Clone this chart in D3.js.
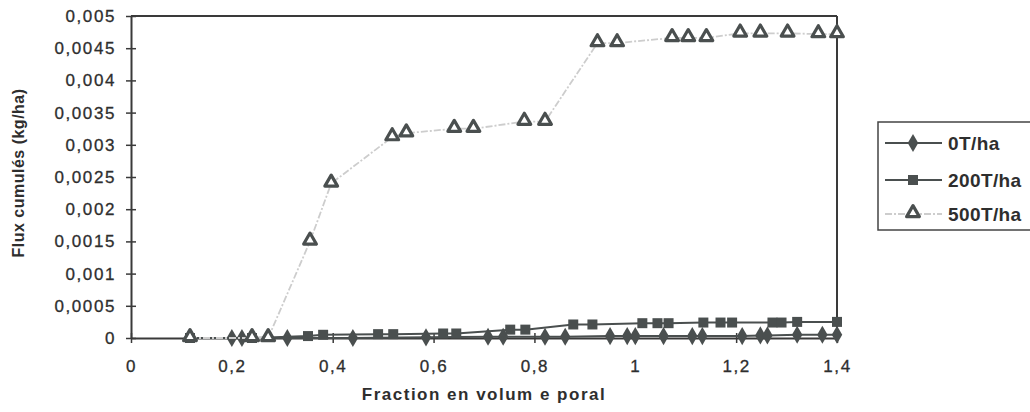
<!DOCTYPE html>
<html><head><meta charset="utf-8">
<script src="https://cdn.jsdelivr.net/npm/d3@7"></script>
<style>
html,body{margin:0;padding:0;background:#fff;}
svg{display:block;}
text{font-family:"Liberation Sans",Arial,sans-serif;fill:#2e2e2e;}
</style></head>
<body>
<script>
// ---- data ----
const xTicks = [0, 0.2, 0.4, 0.6, 0.8, 1, 1.2, 1.4];
const xTickLabels = ["0", "0,2", "0,4", "0,6", "0,8", "1", "1,2", "1,4"];
const yTicks = [0, 0.0005, 0.001, 0.0015, 0.002, 0.0025, 0.003, 0.0035, 0.004, 0.0045, 0.005];
const yTickLabels = ["0", "0,0005", "0,001", "0,0015", "0,002", "0,0025", "0,003", "0,0035", "0,004", "0,0045", "0,005"];
const seriesNames = ["0T/ha", "200T/ha", "500T/ha"];

const x0T = [0.2, 0.22, 0.31, 0.44, 0.585, 0.708, 0.738, 0.821, 0.861, 0.95, 0.984, 1.0, 1.056, 1.113, 1.133, 1.212, 1.248, 1.262, 1.321, 1.371, 1.4];
const y0T = [0, 0, 0, 0, 0.00001, 0.00002, 0.00002, 0.00002, 0.00002, 0.00003, 0.00003, 0.00003, 0.00003, 0.00003, 0.00003, 0.00003, 0.00004, 0.00004, 0.00005, 0.00005, 0.00005];

const x200T = [0.117, 0.24, 0.351, 0.381, 0.49, 0.52, 0.619, 0.645, 0.752, 0.782, 0.877, 0.915, 1.014, 1.044, 1.066, 1.135, 1.169, 1.192, 1.272, 1.29, 1.321, 1.4];
const y200T = [0, 0, 0.00003, 0.00005, 0.00006, 0.00006, 0.00007, 0.00007, 0.00013, 0.00013, 0.00021, 0.00021, 0.00023, 0.00023, 0.00023, 0.00024, 0.00024, 0.00024, 0.00024, 0.00024, 0.00025, 0.00025];

const x500T = [0.117, 0.24, 0.272, 0.355, 0.397, 0.518, 0.546, 0.641, 0.679, 0.78, 0.821, 0.925, 0.964, 1.073, 1.105, 1.141, 1.208, 1.248, 1.302, 1.363, 1.4];
const y500T = [0, 0, 0, 0.0015, 0.0024, 0.00312, 0.00318, 0.00325, 0.00325, 0.00336, 0.00336, 0.00458, 0.00458, 0.00466, 0.00466, 0.00466, 0.00473, 0.00473, 0.00473, 0.00472, 0.00472];

// ---- drawing ----
const W = 1030, H = 412;
const svg = d3.select("body").append("svg").attr("width", W).attr("height", H);
const x = d3.scaleLinear().domain([0, 1.4]).range([131, 837]);
const y = d3.scaleLinear().domain([0, 0.005]).range([338, 16]);
const dark = "#4a4f4f";
const axisCol = "#3a3a3a";
const lightLine = "#cdcdcd";

// frame (top & right)
svg.append("line").attr("x1", x(0)).attr("x2", x(1.4)).attr("y1", y(0.005)).attr("y2", y(0.005))
  .attr("stroke", axisCol).attr("stroke-width", 2);
svg.append("line").attr("x1", x(1.4)).attr("x2", x(1.4)).attr("y1", y(0.005)).attr("y2", y(0))
  .attr("stroke", axisCol).attr("stroke-width", 2);

// y axis
const yAxis = d3.axisLeft(y).tickValues(yTicks).tickSize(0).tickPadding(15)
  .tickFormat((d, i) => yTickLabels[i]);
const gy = svg.append("g").attr("transform", `translate(${x(0)},0)`).call(yAxis);
gy.select(".domain").attr("stroke", axisCol).attr("stroke-width", 2);
gy.selectAll(".tick text").attr("font-size", 17).attr("letter-spacing", 1.6).attr("fill", "#2e2e2e")
  .attr("stroke", "#2e2e2e").attr("stroke-width", 0.3)
  .attr("font-family", "Liberation Sans, Arial, sans-serif");
gy.selectAll(".tick").append("line").attr("x1", -5).attr("x2", 5).attr("stroke", axisCol).attr("stroke-width", 1.5);

// x axis
const xAxis = d3.axisBottom(x).tickValues(xTicks).tickSize(0).tickPadding(22)
  .tickFormat((d, i) => xTickLabels[i]);
const gx = svg.append("g").attr("transform", `translate(0,${y(0)})`).call(xAxis);
gx.select(".domain").attr("stroke", axisCol).attr("stroke-width", 2);
gx.selectAll(".tick text").attr("font-size", 17).attr("letter-spacing", 1.6).attr("fill", "#2e2e2e")
  .attr("stroke", "#2e2e2e").attr("stroke-width", 0.3)
  .attr("font-family", "Liberation Sans, Arial, sans-serif");
gx.selectAll(".tick").append("line").attr("y1", -5).attr("y2", 5).attr("stroke", axisCol).attr("stroke-width", 1.5);

// titles
svg.append("text").attr("x", 484).attr("y", 400).attr("text-anchor", "middle")
  .attr("font-size", 17).attr("font-weight", "bold").attr("letter-spacing", 1.5)
  .text("Fraction en volum e poral");
svg.append("text").attr("transform", "translate(24,173) rotate(-90)").attr("text-anchor", "middle")
  .attr("font-size", 16).attr("font-weight", "bold").attr("letter-spacing", 0.5)
  .text("Flux cumulés (kg/ha)");

// series
const line = d3.line().x(d => x(d[0])).y(d => y(d[1]));
const s0 = x0T.map((v, i) => [v, y0T[i]]);
const s200 = x200T.map((v, i) => [v, y200T[i]]);
const s500 = x500T.map((v, i) => [v, y500T[i]]);

const diamond = d3.symbol().type(d3.symbolDiamond).size(95);
const square = d3.symbol().type(d3.symbolSquare).size(100);
const triangle = d3.symbol().type(d3.symbolTriangle).size(70);

// 0T/ha
svg.append("path").datum(s0).attr("d", line).attr("fill", "none").attr("stroke", dark).attr("stroke-width", 2);
svg.append("g").selectAll("path").data(s0).join("path")
  .attr("transform", d => `translate(${x(d[0])},${y(d[1])})`).attr("d", diamond).attr("fill", dark);

// 200T/ha
svg.append("path").datum(s200).attr("d", line).attr("fill", "none").attr("stroke", dark).attr("stroke-width", 2);
svg.append("g").selectAll("path").data(s200).join("path")
  .attr("transform", d => `translate(${x(d[0])},${y(d[1])})`).attr("d", square).attr("fill", dark);

// 500T/ha
svg.append("path").datum(s500).attr("d", line).attr("fill", "none").attr("stroke", lightLine)
  .attr("stroke-width", 1.8).attr("stroke-dasharray", "7,2,2,2");
svg.append("g").selectAll("path").data(s500).join("path")
  .attr("transform", d => `translate(${x(d[0])},${y(d[1]) - 1})`).attr("d", triangle)
  .attr("fill", "#fff").attr("stroke", dark).attr("stroke-width", 3.2).attr("stroke-linejoin", "round");

// legend
const lg = svg.append("g");
lg.append("rect").attr("x", 878).attr("y", 122).attr("width", 170).attr("height", 108)
  .attr("fill", "#fff").attr("stroke", "#444").attr("stroke-width", 1.5);
const legY = [143, 180, 214];
const markers = [diamond, square, triangle];
seriesNames.forEach((name, i) => {
  const ly = legY[i];
  lg.append("line").attr("x1", 885).attr("x2", 942).attr("y1", ly).attr("y2", ly)
    .attr("stroke", i === 2 ? lightLine : dark).attr("stroke-width", 2)
    .attr("stroke-dasharray", i === 2 ? "7,2,2,2" : null);
  const m = lg.append("path").attr("transform", `translate(913,${ly - (i === 2 ? 1 : 0)})`).attr("d", markers[i]);
  if (i === 2) m.attr("fill", "#fff").attr("stroke", dark).attr("stroke-width", 3.2).attr("stroke-linejoin", "round");
  else m.attr("fill", dark);
  lg.append("text").attr("x", 948).attr("y", ly + 7).attr("font-size", 19).attr("font-weight", "bold")
    .attr("letter-spacing", 0.4).text(name);
});
</script>
</body></html>
